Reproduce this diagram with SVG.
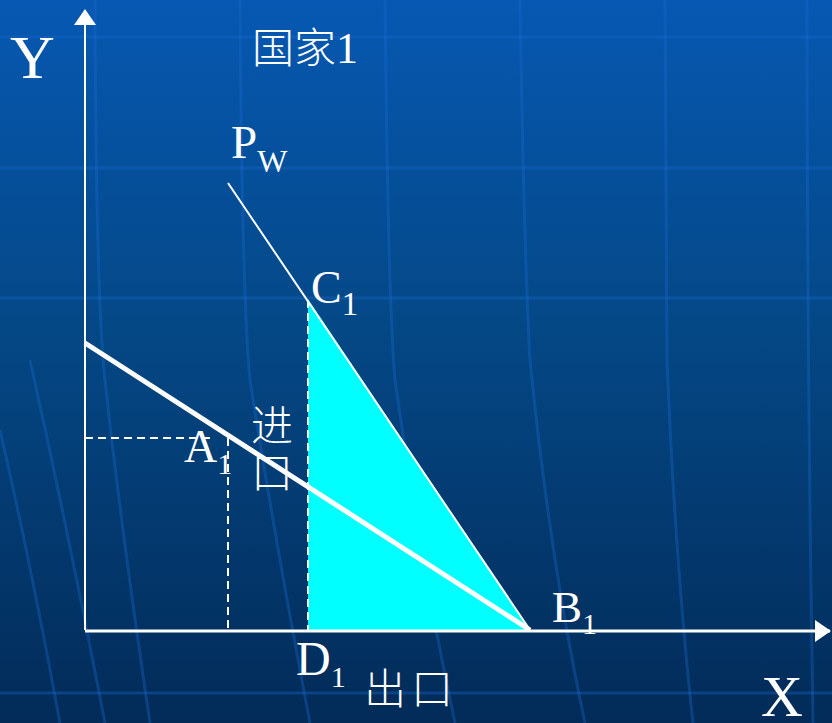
<svg xmlns="http://www.w3.org/2000/svg" width="832" height="723" viewBox="0 0 832 723">
<defs>
<linearGradient id="bg" x1="0" y1="0" x2="0" y2="1">
<stop offset="0" stop-color="#0658b2"/>
<stop offset="0.45" stop-color="#044886"/>
<stop offset="1" stop-color="#022b58"/>
</linearGradient>
<marker id="arr" viewBox="0 0 16 22" refX="15" refY="11" markerWidth="16" markerHeight="22" markerUnits="userSpaceOnUse" orient="auto">
<path d="M0,0 L16,11 L0,22 Z" fill="#ffffff"/>
</marker>
</defs>
<style>
.grid{fill:none;stroke:#1a6ad0;stroke-width:3;opacity:0.35}
.lat{font-family:"Liberation Serif","Times New Roman",serif;fill:#ffffff}
.cjk{font-family:"Noto Sans CJK SC",sans-serif;fill:#ffffff;font-weight:300}
.dash{stroke:#ffffff;stroke-width:2;stroke-dasharray:8,5;fill:none}
</style>
<rect x="0" y="0" width="832" height="723" fill="url(#bg)"/>
<g id="background-grid">
<line class="grid" x1="0" y1="37" x2="832" y2="37"/>
<line class="grid" x1="0" y1="168" x2="832" y2="168"/>
<line class="grid" x1="0" y1="298" x2="832" y2="298"/>
<line class="grid" x1="0" y1="693" x2="832" y2="693" opacity="0.15"/>
<path class="grid" d="M95,0 Q96,300 105,380 Q120,520 150,723"/>
<path class="grid" d="M240,0 Q242,300 250,380 Q275,540 310,723"/>
<path class="grid" d="M385,0 Q388,300 395,380 Q420,560 455,723"/>
<path class="grid" d="M520,0 Q524,250 530,360 Q550,560 585,723"/>
<path class="grid" d="M665,0 Q666,250 667,360 Q675,560 693,723"/>
<path class="grid" d="M807,0 Q807,360 813,723"/>
<path class="grid" d="M0,430 Q30,560 60,723" opacity="0.2"/>
<path class="grid" d="M30,360 Q70,540 105,723" opacity="0.2"/>
</g>
<g id="region-fill">
<polygon points="308,299 308,630 530,630" fill="#00ffff"/>
</g>
<g id="connectors">
<line x1="85" y1="630" x2="85" y2="10" stroke="#ffffff" stroke-width="2" marker-end="url(#arr)"/>
<line x1="85" y1="631" x2="830" y2="631" stroke="#ffffff" stroke-width="3" marker-end="url(#arr)"/>
<line x1="228" y1="183" x2="530" y2="630" stroke="#ffffff" stroke-width="2"/>
<line x1="85" y1="343" x2="530" y2="630" stroke="#ffffff" stroke-width="5"/>
<line class="dash" x1="308" y1="300" x2="308" y2="630"/>
<line class="dash" x1="85" y1="438" x2="214" y2="438"/>
<line class="dash" x1="228" y1="438" x2="228" y2="630"/>
</g>
<g id="label-Y"><text class="lat" x="10" y="78" font-size="62">Y</text></g>
<g id="label-X"><text class="lat" x="761" y="716" font-size="58">X</text></g>
<g id="title"><text x="252" y="63"><tspan class="cjk" font-size="42">国家</tspan><tspan class="lat" font-size="44">1</tspan></text></g>
<g id="label-Pw"><text class="lat" x="231" y="158" font-size="47">P<tspan font-size="32" dy="14">W</tspan></text></g>
<g id="label-C1"><text class="lat" x="311" y="303" font-size="46">C<tspan font-size="33" dy="12">1</tspan></text></g>
<g id="label-A1"><text class="lat" x="184" y="462" font-size="46">A<tspan font-size="30" dy="12">1</tspan></text></g>
<g id="label-D1"><text class="lat" x="296" y="675" font-size="48">D<tspan font-size="30" dy="12">1</tspan></text></g>
<g id="label-B1"><text class="lat" x="552" y="622" font-size="45">B<tspan font-size="30" dy="12">1</tspan></text></g>
<g id="label-import">
<text class="cjk" x="251" y="441" font-size="42">进</text>
<text class="cjk" x="251" y="488" font-size="42">口</text>
</g>
<g id="label-export">
<text class="cjk" x="364" y="704" font-size="42">出</text>
<text class="cjk" x="411" y="704" font-size="42">口</text>
</g>
</svg>
